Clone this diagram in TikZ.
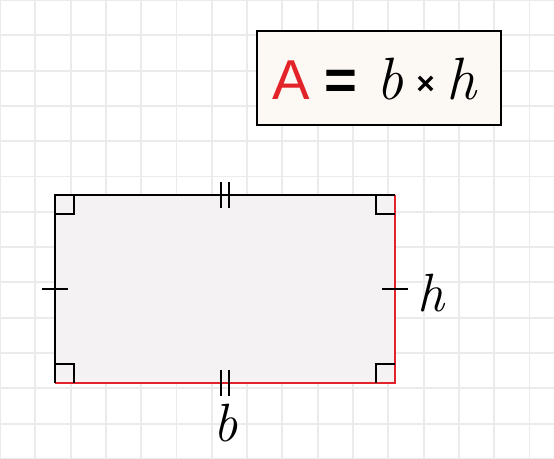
\documentclass[tikz,border=0pt]{standalone}
\usepackage{fontspec}
\setsansfont{Liberation Sans}
\usepackage{tikz}
\usetikzlibrary{calc}
\definecolor{gridgray}{HTML}{EBEBEB}
\definecolor{shapefill}{HTML}{F4F2F3}
\definecolor{boxfill}{HTML}{FCF8F3}
\definecolor{edgered}{HTML}{E3232A}
\tikzset{
  formulapart/.style={inner sep=0pt,anchor=base},
  varlabel/.style={font=\fontsize{46}{46}\selectfont\itshape}
}

\begin{document}
\begin{tikzpicture}[x=0.03cm,y=-0.03cm,line width=1.2pt]
  \useasboundingbox (0,0) rectangle (554,459);
  % background grid
  \foreach \i in {0,...,15} \draw[gridgray,line width=1.6pt] (\i*35.3,0) -- (\i*35.3,459);
  \foreach \j in {0,...,13} \draw[gridgray,line width=1.6pt] (0,\j*35.3) -- (554,\j*35.3);
  % formula
  \node[draw,line width=1.6pt,fill=boxfill,minimum width=7.3cm,minimum height=2.8cm,inner sep=0pt] (formula) at (379,78) {};
  \node[formulapart,edgered,font=\fontsize{48}{48}\selectfont\sffamily] (areaA) at (291,100) {A};
  \node[formulapart,font=\fontsize{48}{48}\selectfont\sffamily\bfseries] (equals) at (340.5,100) {=};
  \node[formulapart,font=\fontsize{51}{51}\selectfont\itshape] (formb) at (390,100) {b};
  \node[inner sep=0pt,font=\fontsize{27}{27}\selectfont\sffamily\bfseries] (times) at (425.5,85) {×};
  \node[formulapart,font=\fontsize{51}{51}\selectfont\itshape] (formh) at (461,100) {h};
  % rectangle
  \coordinate (tl) at (55,195);
  \coordinate (tr) at (395,195);
  \coordinate (br) at (395,383);
  \coordinate (bl) at (55,383);
  \fill[shapefill] (tl) rectangle (br);
  \draw[edgered] (tr) -- (br) -- (bl);
  \draw (bl) -- (tl) -- (tr);
  % right angles
  \draw ($(tl)+(0,19)$) -- ++(19,0) -- ++(0,-19);
  \draw ($(tr)+(-19,0)$) -- ++(0,19) -- ++(19,0);
  \draw ($(bl)+(0,-19)$) -- ++(19,0) -- ++(0,19);
  \draw ($(br)+(-19,0)$) -- ++(0,-19) -- ++(19,0);
  % tick marks
  \foreach \dx in {-4,4} {
    \draw ($(tl)!0.5!(tr)+(\dx,-13)$) -- ++(0,26);
    \draw ($(bl)!0.5!(br)+(\dx,-13)$) -- ++(0,26);
  }
  \draw ($(tl)!0.5!(bl)+(-13,0)$) -- ++(26,0);
  \draw ($(tr)!0.5!(br)+(-13,0)$) -- ++(26,0);
  % labels
  \node[varlabel] (hlabel) at (431,293) {h};
  \node[varlabel] (blabel) at (226,423) {b};
\end{tikzpicture}
\end{document}
